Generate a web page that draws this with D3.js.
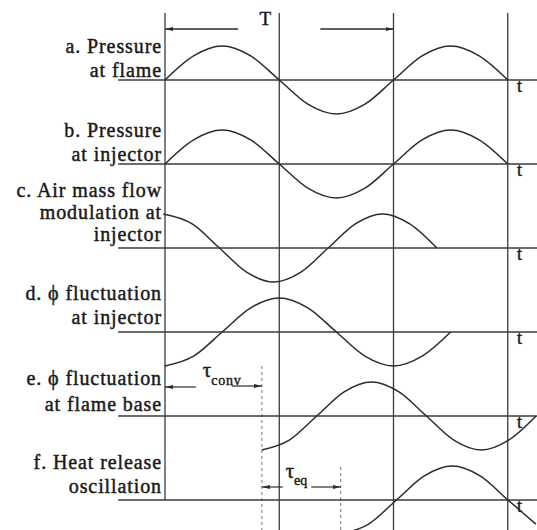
<!DOCTYPE html>
<html><head><meta charset="utf-8">
<script src="https://cdn.jsdelivr.net/npm/d3@7"></script>
<style>
html,body{margin:0;padding:0;background:#fff;}
svg{display:block;}
</style></head>
<body>
<svg id="c" width="537" height="530"></svg>
<script>
// ---- data ----
const panelLabels = [
  ["a. Pressure", "at flame"],
  ["b. Pressure", "at injector"],
  ["c. Air mass flow", "modulation at", "injector"],
  ["d. \u03d5 fluctuation", "at injector"],
  ["e. \u03d5 fluctuation", "at flame base"],
  ["f. Heat release", "oscillation"]
];
// key points of each wave: time (in periods T) and normalised amplitude
const waveA_t = [0, .125, .25, .375, .5, .625, .75, .875, 1, 1.125, 1.25, 1.375, 1.5];
const waveA_v = [0, .71, 1, .71, 0, -.71, -1, -.71, 0, .71, 1, .71, 0];
const waveB_t = [0, .125, .25, .375, .5, .625, .75, .875, 1, 1.125, 1.25, 1.375, 1.5];
const waveB_v = [0, .71, 1, .71, 0, -.71, -1, -.71, 0, .71, 1, .71, 0];
const waveC_t = [-.008, .119, .238, .357, .476, .595, .714, .833, .952, 1.071, 1.19];
const waveC_v = [1, .71, 0, -.71, -1, -.71, 0, .71, 1, .71, 0];
const waveD_t = [0, .125, .25, .375, .5, .625, .75, .875, 1, 1.125, 1.25];
const waveD_v = [-1, -.71, 0, .71, 1, .71, 0, -.71, -1, -.71, 0];
const waveE_t = [.424, .544, .664, .784, .904, 1.024, 1.144, 1.264, 1.384, 1.504, 1.624];
const waveE_v = [-1, -.71, 0, .71, 1, .71, 0, -.71, -1, -.71, 0];
const waveF_t = [.769, .891, 1.013, 1.135, 1.257, 1.379, 1.501, 1.623];
const waveF_v = [-1, -.71, 0, .71, 1, .71, 0, -.71];
const waveT = [waveA_t, waveB_t, waveC_t, waveD_t, waveE_t, waveF_t];
const waveV = [waveA_v, waveB_v, waveC_v, waveD_v, waveE_v, waveF_v];
// reference times (periods): solid markers and dotted delay markers
const solidMarks = [0, .5, 1, 1.5];
const tauConv = .424;   // convective delay
const tauEq = .769;     // tau_conv + tau_eq
const axisLabel = "t";
const periodLabel = "T";

// ---- layout ----
const svg = d3.select("#c");
const W = 537, H = 530;
const ink = "#2b2b2b";
const txtInk = "#1a1a1a";
const x = d3.scaleLinear().domain([0, 1]).range([165, 393.5]);
const panelY = d3.scaleLinear().domain([0, 5]).range([80, 500]);
const amp = 34;
const tStart = -0.205;
const labelDrop = [3, 3, 7, 8, 5, 7];
const labelLead = [24, 24, 22, 24, 26, 24];

const defs = svg.append("defs");
function marker(id, dir) {
  const m = defs.append("marker").attr("id", id).attr("markerUnits", "userSpaceOnUse")
    .attr("markerWidth", 9).attr("markerHeight", 6).attr("refX", dir > 0 ? 8 : 0).attr("refY", 3)
    .attr("orient", "0");
  m.append("path").attr("d", dir > 0 ? "M0,1 L8,3 L0,5 Z" : "M8,1 L0,3 L8,5 Z").attr("fill", ink);
}
marker("ar", 1); marker("al", -1);

// vertical reference lines
solidMarks.forEach((t, i) => {
  svg.append("line").attr("x1", x(t)).attr("x2", x(t))
    .attr("y1", 13).attr("y2", i === 0 ? panelY(5) : H)
    .attr("stroke", "#3a3a3a").attr("stroke-width", 1.3);
});
// dotted delay lines
svg.append("line").attr("x1", x(tauConv)).attr("x2", x(tauConv))
  .attr("y1", panelY(4) - 50).attr("y2", H)
  .attr("stroke", "#777").attr("stroke-width", 1).attr("stroke-dasharray", "3,3");
svg.append("line").attr("x1", x(tauEq)).attr("x2", x(tauEq))
  .attr("y1", panelY(5) - 33).attr("y2", H)
  .attr("stroke", "#777").attr("stroke-width", 1).attr("stroke-dasharray", "3,3");

// baselines, labels, waves
const serif = "'Liberation Serif','Times New Roman',serif";
function styleText(sel, size) {
  return sel.attr("font-family", serif).attr("font-size", size).attr("fill", txtInk)
    .attr("stroke", txtInk).attr("stroke-width", 0.45);
}
panelLabels.forEach((lines, i) => {
  const b = panelY(i);
  const y = d3.scaleLinear().domain([-1, 1]).range([b + amp, b - amp]);
  svg.append("line").attr("x1", x(tStart)).attr("x2", W).attr("y1", b).attr("y2", b)
    .attr("stroke", "#3a3a3a").attr("stroke-width", 1.7);
  const txt = styleText(svg.append("text").attr("text-anchor", "end"), 20)
    .attr("letter-spacing", "0.9px");
  const n = lines.length;
  lines.forEach((s, k) => {
    txt.append("tspan").attr("x", 162)
      .attr("y", b - labelDrop[i] - (n - 1 - k) * labelLead[i]).text(s);
  });
  styleText(svg.append("text").attr("x", x(1.54)).attr("y", b + 12), 18).text(axisLabel);
  const pts = waveT[i].map((t, k) => [t, waveV[i][k]]);
  svg.append("path").datum(pts)
    .attr("d", d3.line().x(d => x(d[0])).y(d => y(d[1])).curve(d3.curveMonotoneX))
    .attr("fill", "none").attr("stroke", ink).attr("stroke-width", 1.5);
});

// period arrow
const ty = 29;
svg.append("line").attr("x1", x(0.32)).attr("x2", x(0)).attr("y1", ty).attr("y2", ty)
  .attr("stroke", ink).attr("stroke-width", 1.3).attr("marker-end", "url(#al)");
svg.append("line").attr("x1", x(0.68)).attr("x2", x(1)).attr("y1", ty).attr("y2", ty)
  .attr("stroke", ink).attr("stroke-width", 1.3).attr("marker-end", "url(#ar)");
styleText(svg.append("text").attr("x", x(0.5) - 14).attr("y", 25).attr("text-anchor", "middle"), 19)
  .text(periodLabel);

// tau_conv
const cy = 386;
svg.append("line").attr("x1", x(0.135)).attr("x2", x(0)).attr("y1", cy + 1).attr("y2", cy + 1)
  .attr("stroke", ink).attr("stroke-width", 1.2).attr("marker-end", "url(#al)");
svg.append("line").attr("x1", x(0.292)).attr("x2", x(tauConv)).attr("y1", cy).attr("y2", cy)
  .attr("stroke", ink).attr("stroke-width", 1.2).attr("marker-end", "url(#ar)");
const tc = styleText(svg.append("text").attr("x", x(0.165)).attr("y", cy - 9), 21);
tc.append("tspan").text("\u03c4");
tc.append("tspan").attr("dy", 8).attr("font-size", 14).attr("letter-spacing", "0.8px").text("conv");

// tau_eq
const ey = 487;
svg.append("line").attr("x1", x(0.515)).attr("x2", x(tauConv)).attr("y1", ey).attr("y2", ey)
  .attr("stroke", ink).attr("stroke-width", 1.2).attr("marker-end", "url(#al)");
svg.append("line").attr("x1", x(0.64)).attr("x2", x(tauEq)).attr("y1", ey).attr("y2", ey)
  .attr("stroke", ink).attr("stroke-width", 1.2).attr("marker-end", "url(#ar)");
const te = styleText(svg.append("text").attr("x", x(0.528)).attr("y", ey - 9), 21);
te.append("tspan").text("\u03c4");
te.append("tspan").attr("dy", 7).attr("font-size", 14).text("eq");
</script>
</body></html>
